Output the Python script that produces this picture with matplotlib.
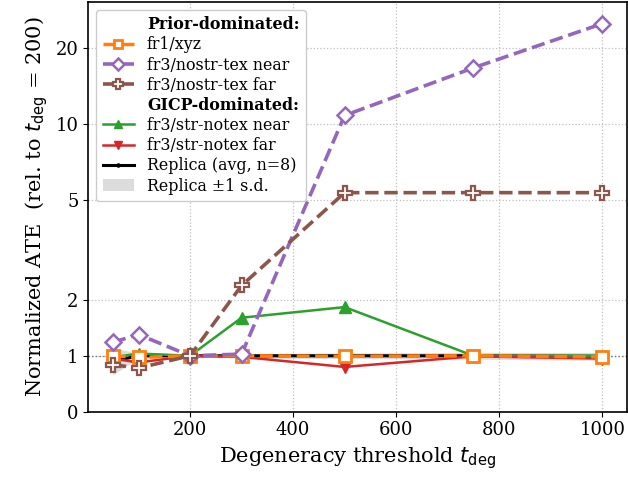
import matplotlib
matplotlib.use("Agg")
import matplotlib.pyplot as plt
from matplotlib.lines import Line2D
from matplotlib.patches import Patch
import numpy as np

plt.rcParams['font.family'] = ['DejaVu Serif']
plt.rcParams['mathtext.fontset'] = 'dejavusans'

x = [50, 100, 200, 300, 500, 750, 1000]
fr1_xyz = [1.00, 0.97, 1.00, 1.00, 0.99, 1.00, 0.98]
nostr_near = [1.24, 1.38, 1.00, 1.03, 10.8, 16.7, 25.0]
nostr_far = [0.84, 0.78, 1.00, 2.28, 5.33, 5.33, 5.33]
str_near = [0.97, 1.04, 1.00, 1.68, 1.87, 1.00, 1.00]
str_far = [0.95, 0.88, 1.00, 0.98, 0.80, 0.99, 0.95]
replica_mean = [0.90, 1.00, 1.00, 1.00, 1.00, 1.00, 0.99]
replica_sd = [0.24, 0.05, 0.02, 0.04, 0.05, 0.06, 0.07]
yticks = [0, 1, 2, 5, 10, 20]

fig = plt.figure(figsize=(6.28, 4.87), dpi=100)
ax = fig.add_axes([0.1406, 0.1546, 0.998 - 0.1406, 0.996 - 0.1546])

ax.set_yscale('symlog', linthresh=2, linscale=0.4)

m = np.array(replica_mean); s = np.array(replica_sd)
ax.fill_between(x, m - s, m + s, color='0.55', alpha=0.3, lw=0, zorder=1)
ax.axhline(1, color='0.45', ls=':', lw=1.0, zorder=1.5)

l_rep, = ax.plot(x, replica_mean, color='black', lw=2.2, marker='o', ms=3, zorder=2)
l_gn, = ax.plot(x, str_near, color='#2ca02c', lw=1.8, marker='^', ms=8, zorder=3)
l_gf, = ax.plot(x, str_far, color='#d62728', lw=1.8, marker='v', ms=8, zorder=3.1)
l_fr1, = ax.plot(x, fr1_xyz, color='#ff7f0e', lw=2.5, ls='--', marker='s', ms=8,
                 mfc='white', mew=2, zorder=4)
l_nn, = ax.plot(x, nostr_near, color='#9467bd', lw=2.6, ls='--', marker='D', ms=8.5,
                mfc='white', mew=1.8, zorder=5)
l_nf, = ax.plot(x, nostr_far, color='#8c564b', lw=2.6, ls='--', marker='P', ms=9.5,
                mfc='white', mec='#8c564b', mew=1.6, zorder=6)

ax.set_ylim(0, 30.5)
ax.set_xlim(2.5, 1047.5)
ax.set_yticks(yticks)
ax.set_yticklabels([str(v) for v in yticks])
ax.yaxis.set_minor_locator(matplotlib.ticker.NullLocator())
ax.set_xticks([200, 400, 600, 800, 1000])
ax.tick_params(labelsize=13)
ax.grid(True, ls=':', color='0.75', lw=0.9)
ax.set_axisbelow(True)
for sp in ax.spines.values():
    sp.set_linewidth(1.2)

ax.set_xlabel(r'Degeneracy threshold $t_{\mathrm{deg}}$', fontsize=15)
ax.set_ylabel(r'Normalized ATE  (rel. to $t_{\mathrm{deg}}$ = 200)', fontsize=15)

h1 = Line2D([], [], color='none', label='Prior-dominated:')
h2 = Line2D([], [], color='none', label='GICP-dominated:')
handles = [h1, l_fr1, l_nn, l_nf, h2, l_gn, l_gf, l_rep,
           Patch(facecolor='0.55', alpha=0.3, lw=0)]
labels = ['Prior-dominated:', 'fr1/xyz', 'fr3/nostr-tex near', 'fr3/nostr-tex far',
          'GICP-dominated:', 'fr3/str-notex near', 'fr3/str-notex far',
          'Replica (avg, n=8)', 'Replica ±1 s.d.']
leg = ax.legend(handles, labels, loc='upper left', fontsize=11.4, framealpha=1,
                edgecolor='0.8', borderpad=0.4, labelspacing=0.2, handletextpad=0.8,
                markerscale=0.75)
for t in leg.get_texts():
    if t.get_text().endswith('dominated:'):
        t.set_fontweight('bold')

fig.savefig('out.png', dpi=100)
